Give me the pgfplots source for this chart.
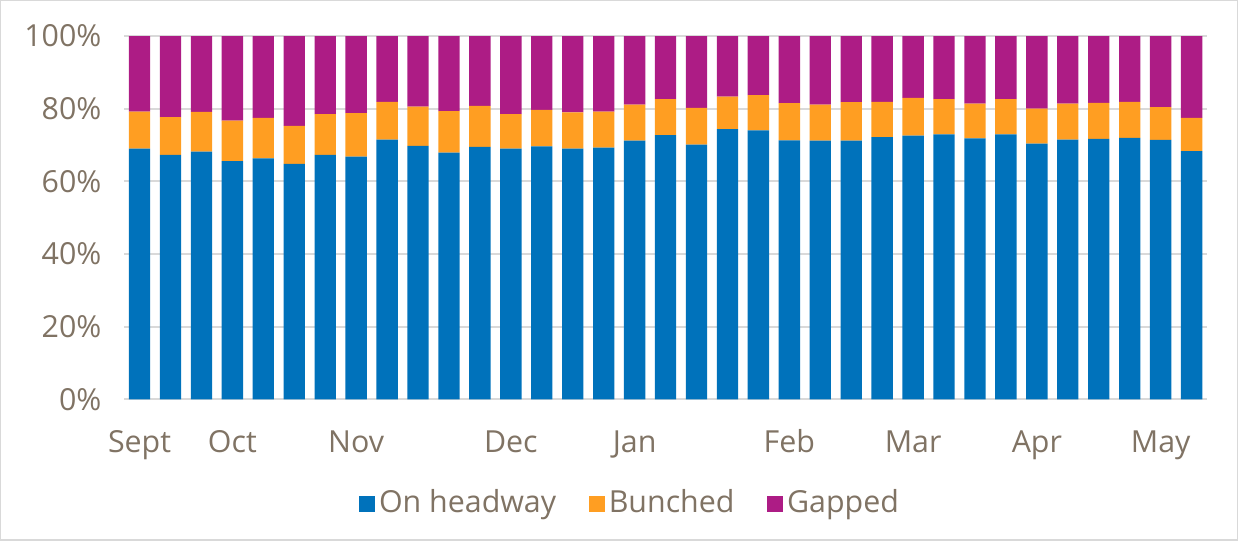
\documentclass[border=0pt]{standalone}
\usepackage{fontspec}
\setmainfont{Open Sans}
\usepackage{pgfplots}
\usepackage{pgfplotstable}
\pgfplotsset{compat=1.18}

\definecolor{onhw}{RGB}{0,114,187}
\definecolor{bunch}{RGB}{255,158,34}
\definecolor{gap}{RGB}{173,28,133}
\definecolor{txt}{RGB}{128,115,100}
\definecolor{gridc}{RGB}{217,217,217}

\pgfplotstableread{
x on bunched gapped
0 69.0 10.2 20.8
1 67.3 10.4 22.3
2 68.2 10.9 20.9
3 65.6 11.1 23.3
4 66.3 11.2 22.5
5 64.8 10.5 24.7
6 67.3 11.2 21.5
7 66.8 12.0 21.2
8 71.5 10.4 18.1
9 69.8 10.8 19.4
10 67.9 11.4 20.7
11 69.5 11.3 19.2
12 69.0 9.5 21.5
13 69.6 10.1 20.3
14 69.0 10.0 21.0
15 69.3 9.9 20.8
16 71.2 9.9 18.9
17 72.7 9.9 17.4
18 70.1 10.1 19.8
19 74.4 8.9 16.7
20 74.0 9.7 16.3
21 71.3 10.2 18.5
22 71.2 9.9 18.9
23 71.2 10.6 18.2
24 72.2 9.7 18.1
25 72.6 10.4 17.0
26 72.9 9.7 17.4
27 71.8 9.6 18.6
28 72.9 9.7 17.4
29 70.4 9.6 20.0
30 71.5 9.9 18.6
31 71.7 9.9 18.4
32 72.0 9.9 18.1
33 71.4 9.0 19.6
34 68.3 9.2 22.5
}\headway

\begin{document}
\fontsize{15pt}{18pt}\selectfont
\begin{tikzpicture}
\begin{axis}[
  scale only axis, width=535pt, height=179.5pt,
  ybar stacked, bar width=0.69,
  xmin=-0.5, xmax=34.5, ymin=0, ymax=100,
  axis line style={draw=none},
  ymajorgrids, grid style={gridc, line width=1pt},
  ytick={0,20,40,60,80,100},
  yticklabel={\pgfmathprintnumber{\tick}\%},
  xtick={0,3,7,12,16,21,25,29,33},
  xticklabels={Sept,Oct,Nov,Dec,Jan,Feb,Mar,Apr,May},
  major tick length=0pt,
  ticklabel style={font=\fontsize{15pt}{18pt}\selectfont, text=txt},
  yticklabel style={xshift=-6pt},
  xticklabel style={yshift=-10pt, text height=11pt, text depth=4pt},
  /pgf/number format/assume math mode=true,
  legend style={at={(0.468,-0.287)}, anchor=center, draw=none,
    font=\fontsize{15pt}{18pt}\selectfont, text=txt,
    /tikz/every even column/.append style={column sep=14pt}},
  legend columns=-1,
  legend image code/.code={\fill[#1] (0pt,-4pt) rectangle (8pt,4pt);},
  clip=false,
]
\addplot[fill=onhw, draw=none] table[x=x, y=on] {\headway};
\addplot[fill=bunch, draw=none] table[x=x, y=bunched] {\headway};
\addplot[fill=gap, draw=none] table[x=x, y=gapped] {\headway};
\legend{On headway, Bunched, Gapped}
\draw[gridc, line width=0.6pt] (rel axis cs:0,0) ++(-61pt,-69.5pt) rectangle ([xshift=15pt,yshift=17.5pt]rel axis cs:1,1);
\end{axis}
\end{tikzpicture}
\end{document}
